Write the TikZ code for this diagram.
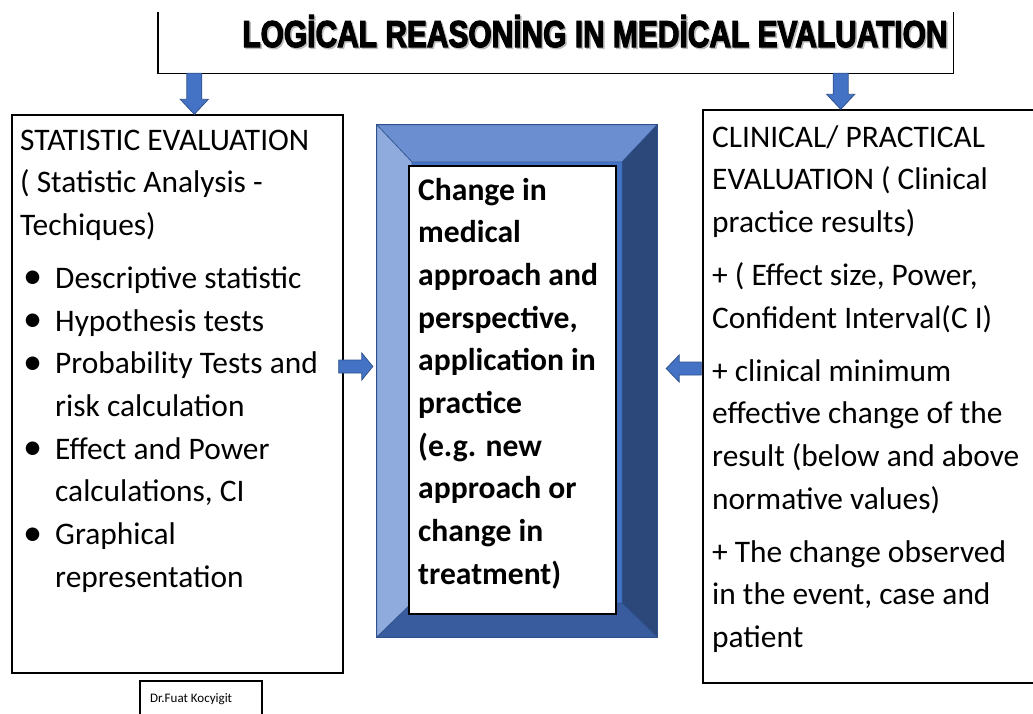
\documentclass[tikz,border=0pt]{standalone}
\usepackage{fontspec}
\setmainfont{Carlito}
\newfontfamily\titlefont[FakeBold=3.5]{Liberation Sans}
\usetikzlibrary{calc}

\definecolor{arrowblue}{HTML}{4472C4}
\definecolor{arrowedge}{HTML}{2F528F}
\definecolor{bevtop}{HTML}{6A8ED0}
\definecolor{bevleft}{HTML}{8FAADC}
\definecolor{bevright}{HTML}{2C4779}
\definecolor{bevbottom}{HTML}{385C9E}
\definecolor{bevface}{HTML}{4472C4}
\definecolor{titleshadow}{HTML}{BDBDBD}

\tikzset{
  boxline/.style={draw=black, line width=1.4pt, inner sep=0pt},
  txt/.style={inner sep=0pt, align=left, font=\fontsize{31.4}{42.7}\selectfont},
  blkarrow/.style={fill=arrowblue, draw=arrowedge, line width=0.8pt, line join=miter},
  bevel/.style={draw=arrowedge, line width=0.6pt, line join=miter},
}

% block arrows: #1 = start of the shaft, #2 = tip
\newcommand\blkdown[2]{\draw[blkarrow] let \p1=(#1), \p2=(#2) in
  (\x1-7.5pt,\y1) -- (\x1+7.5pt,\y1) -- (\x1+7.5pt,\y2+15pt) -- (\x1+14pt,\y2+15pt)
  -- (\x1,\y2) -- (\x1-14pt,\y2+15pt) -- (\x1-7.5pt,\y2+15pt) -- cycle;}
\newcommand\blkright[2]{\draw[blkarrow] let \p1=(#1), \p2=(#2) in
  (\x1,\y1+6.5pt) -- (\x2-11pt,\y1+6.5pt) -- (\x2-11pt,\y1+13.5pt) -- (\x2,\y1)
  -- (\x2-11pt,\y1-13.5pt) -- (\x2-11pt,\y1-6.5pt) -- (\x1,\y1-6.5pt) -- cycle;}
\newcommand\blkleft[2]{\draw[blkarrow] let \p1=(#1), \p2=(#2) in
  (\x1,\y1+6.5pt) -- (\x2+13pt,\y1+6.5pt) -- (\x2+13pt,\y1+13.5pt) -- (\x2,\y1)
  -- (\x2+13pt,\y1-13.5pt) -- (\x2+13pt,\y1-6.5pt) -- (\x1,\y1-6.5pt) -- cycle;}

\newcommand\bul{\makebox[35pt][l]{\hspace*{3pt}\raisebox{-0.5pt}{\scalebox{1.22}{•}}}}
\newcommand\cont{\hspace*{35pt}}
\newcommand\titletext{LOGİCAL REASONİNG IN MEDİCAL EVALUATION}

\begin{document}
\begin{tikzpicture}[x=1pt, y=-1pt]
\useasboundingbox (0,0) rectangle (1033,713);

% heading box, open at the top
\node[minimum width=795pt, minimum height=61pt, inner sep=0pt] (titlebox) at (555.5,42.5) {};
\draw[line width=1.4pt] (titlebox.north west) -- (titlebox.south west)
  -- (titlebox.south east) -- (titlebox.north east);
\node[anchor=base, inner sep=0pt, text=titleshadow] (titleshade) at (596.5,48.5)
  {\titlefont\bfseries\scalebox{1}[1.25]{\resizebox{705pt}{!}{\titletext}}};
\node[anchor=base, inner sep=0pt] (title) at (595,47)
  {\titlefont\bfseries\scalebox{1}[1.25]{\resizebox{705pt}{!}{\titletext}}};

% left column (text anchored at the baseline of its last line)
\node[boxline, minimum width=331pt, minimum height=558pt] (stat) at (177.5,394) {};
\node[txt, anchor=base west] (stattext) at (20,587.3) {%
STATISTIC EVALUATION\\
( Statistic Analysis -\\
Techiques)\\[10.3pt]
\bul Descriptive statistic\\
\bul Hypothesis tests\\
\bul Probability Tests and\\
\cont risk calculation\\
\bul Effect and Power\\
\cont calculations, CI\\
\bul Graphical\\
\cont representation};

% right column
\node[boxline, minimum width=340pt, minimum height=573pt] (clin) at (873,396.5) {};
\node[txt, anchor=base west] (clintext) at (712,647.6) {%
CLINICAL/ PRACTICAL\\
EVALUATION ( Clinical\\
practice results)\\[10.3pt]
+ ( Effect size, Power,\\
Confident Interval(C I)\\[10.3pt]
+ clinical minimum\\
effective change of the\\
result (below and above\\
normative values)\\[10.3pt]
+ The change observed\\
in the event, case and\\
patient};

% bevelled frame in the middle
\node[minimum width=280pt, minimum height=512pt, inner sep=0pt] (frame) at (517,381) {};
\coordinate (iNW) at ($(frame.north west)+(35,37)$);
\coordinate (iNE) at ($(frame.north east)+(-35,37)$);
\coordinate (iSE) at ($(frame.south east)+(-35,-34)$);
\coordinate (iSW) at ($(frame.south west)+(35,-34)$);
\fill[bevface] (iNW) rectangle (iSE);
\filldraw[bevel, fill=bevtop] (frame.north west) -- (frame.north east) -- (iNE) -- (iNW) -- cycle;
\filldraw[bevel, fill=bevleft] (frame.north west) -- (iNW) -- (iSW) -- (frame.south west) -- cycle;
\filldraw[bevel, fill=bevright] (frame.north east) -- (frame.south east) -- (iSE) -- (iNE) -- cycle;
\filldraw[bevel, fill=bevbottom] (frame.south west) -- (iSW) -- (iSE) -- (frame.south east) -- cycle;
\draw[arrowedge, line width=0.8pt] (frame.north west) rectangle (frame.south east);

\node[boxline, fill=white, minimum width=207pt, minimum height=448pt] (change) at (512.5,390) {};
\node[txt, anchor=base west, font=\fontsize{31.6}{42.7}\selectfont\bfseries] (changetext) at (418,584.3) {%
Change in\\
medical\\
approach and\\
perspective,\\
application in\\
practice\\
(e.g. new\\
approach or\\
change in\\
treatment)};

% arrows
\coordinate (tl) at ($(titlebox.south west)+(36.5,0)$);
\coordinate (tr) at ($(titlebox.south east)+(-112.5,0)$);
\blkdown{tl}{$(stat.north)+(17,0)$}
\blkdown{tr}{$(clin.north)+(-33,0)$}
\coordinate (ls) at ($(stat.east)+(-5,-27.5)$);
\coordinate (lt) at ($(frame.west)+(-4,-14.5)$);
\blkright{ls}{lt}
\coordinate (rs) at ($(clin.west)+(-1,-28)$);
\coordinate (rt) at ($(frame.east)+(9,-12.5)$);
\blkleft{rs}{rt}

% author label
\node[draw=black, line width=1.2pt, minimum width=122pt, minimum height=40pt] (credit) at (201,701) {};
\node[inner sep=0pt, anchor=base west, font=\fontsize{13}{15}\selectfont] (credittext) at (150,702) {Dr.Fuat Kocyigit};
\end{tikzpicture}
\end{document}
